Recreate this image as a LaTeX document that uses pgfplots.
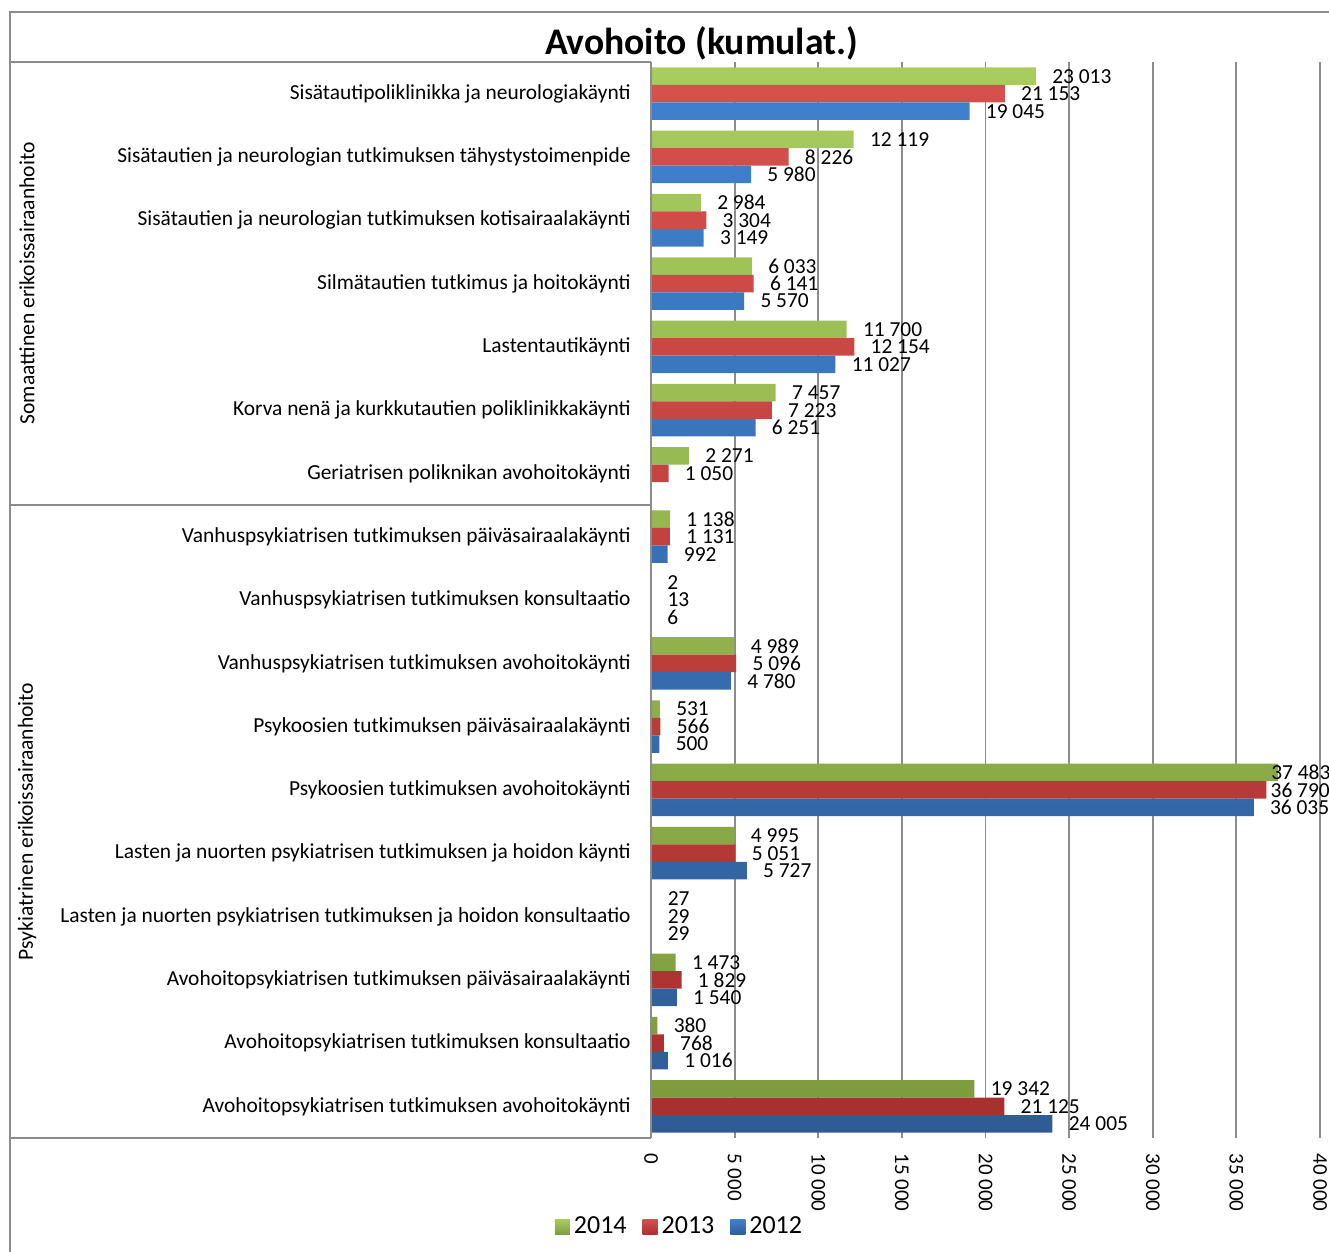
\documentclass[border=0pt]{standalone}
\usepackage{fontspec}
\setmainfont{Carlito}
\usepackage{pgfplots}
\pgfplotsset{compat=1.18}
\definecolor{gridgray}{HTML}{8C8C8C}
\definecolor{framegray}{HTML}{8C8C8C}
\definecolor{gtop}{HTML}{A8CC5E}
\definecolor{gbot}{HTML}{7E9C3E}
\definecolor{rtop}{HTML}{D6504C}
\definecolor{rbot}{HTML}{A8302E}
\definecolor{btop}{HTML}{3F80CE}
\definecolor{bbot}{HTML}{2F5C96}
\newcommand{\lblfont}{\fontsize{10.7}{12.5}\selectfont}
\newcommand{\tickfont}{\fontsize{10.5}{12.5}\selectfont}
\begin{document}
\begin{tikzpicture}
\path (0pt,0pt) rectangle (664.5pt,-626pt);
\begin{axis}[
  at={(325.5pt,-31pt)}, anchor=north west,
  scale only axis, width=334.5pt, height=538pt,
  xbar, bar width=8.75pt,
  xmin=0, xmax=40000, ymin=-0.5, ymax=16.5, y dir=reverse,
  clip=false,
  xtick={0,5000,...,40000},
  ytick={0,...,16},
  yticklabels={
    Sisätautipoliklinikka ja neurologiakäynti,
    Sisätautien ja neurologian tutkimuksen tähystystoimenpide,
    Sisätautien ja neurologian tutkimuksen kotisairaalakäynti,
    Silmätautien tutkimus ja hoitokäynti,
    Lastentautikäynti,
    Korva nenä ja kurkkutautien poliklinikkakäynti,
    Geriatrisen poliknikan avohoitokäynti,
    Vanhuspsykiatrisen tutkimuksen päiväsairaalakäynti,
    Vanhuspsykiatrisen tutkimuksen konsultaatio,
    Vanhuspsykiatrisen tutkimuksen avohoitokäynti,
    Psykoosien tutkimuksen päiväsairaalakäynti,
    Psykoosien tutkimuksen avohoitokäynti,
    Lasten ja nuorten psykiatrisen tutkimuksen ja hoidon käynti,
    Lasten ja nuorten psykiatrisen tutkimuksen ja hoidon konsultaatio,
    Avohoitopsykiatrisen tutkimuksen päiväsairaalakäynti,
    Avohoitopsykiatrisen tutkimuksen konsultaatio,
    Avohoitopsykiatrisen tutkimuksen avohoitokäynti},
  xmajorgrids, grid style={draw=gridgray, line width=0.9pt},
  axis line style={draw=none},
  major tick length=0pt,
  scaled x ticks=false,
  /pgf/number format/fixed,
  /pgf/number format/precision=0,
  /pgf/number format/1000 sep={\ },
  /pgf/number format/assume math mode=true,
  xticklabel style={yshift=-7.5pt, rotate=-90, anchor=west, inner sep=0pt, font=\tickfont},
  yticklabel style={anchor=east, inner sep=0pt, xshift=-10pt, font=\lblfont},
  nodes near coords, point meta=x,
  nodes near coords style={font=\lblfont, anchor=west, inner sep=0pt, xshift=8pt, text=black},
  coordinate style/.condition={x>37000}{xshift=-11.5pt},
  coordinate style/.condition={x>36500 && x<37000}{xshift=-6pt},
  legend style={at={(0.0441,-0.0827)}, anchor=center, draw=none, fill=none,
    font=\fontsize{13}{15}\selectfont, legend columns=3,
    /tikz/every even column/.append style={column sep=6pt}},
  legend image code/.code={\path[#1, draw=none] (-1.5pt,-3.75pt) rectangle (6pt,3.75pt);},
]
\addplot[draw=none, top color=gtop, bottom color=gbot, bar shift=8.75pt] coordinates {
 (23013,0) (12119,1) (2984,2) (6033,3) (11700,4) (7457,5) (2271,6) (1138,7) (2,8)
 (4989,9) (531,10) (37483,11) (4995,12) (27,13) (1473,14) (380,15) (19342,16)};
\addplot[draw=none, top color=rtop, bottom color=rbot, bar shift=0pt] coordinates {
 (21153,0) (8226,1) (3304,2) (6141,3) (12154,4) (7223,5) (1050,6) (1131,7) (13,8)
 (5096,9) (566,10) (36790,11) (5051,12) (29,13) (1829,14) (768,15) (21125,16)};
\addplot[draw=none, top color=btop, bottom color=bbot, bar shift=-8.75pt] coordinates {
 (19045,0) (5980,1) (3149,2) (5570,3) (11027,4) (6251,5) (992,7) (6,8)
 (4780,9) (500,10) (36035,11) (5727,12) (29,13) (1540,14) (1016,15) (24005,16)};
\legend{2014,2013,2012}
\end{axis}
\draw[framegray, line width=0.9pt] (5pt,-626pt) -- (5pt,-6pt) -- (664.5pt,-6pt);
\draw[framegray, line width=0.9pt] (5pt,-31pt) -- (325.5pt,-31pt);
\draw[framegray, line width=0.9pt] (5pt,-252.5pt) -- (325.5pt,-252.5pt);
\draw[framegray, line width=0.9pt] (5pt,-569pt) -- (325.5pt,-569pt);
\draw[framegray, line width=0.9pt] (325.5pt,-31pt) -- (325.5pt,-569pt);
\node[rotate=90, font=\fontsize{10.8}{12.5}\selectfont] at (13.5pt,-141.75pt) {Somaattinen erikoissairaanhoito};
\node[rotate=90, font=\fontsize{10.8}{12.5}\selectfont] at (13.5pt,-410.75pt) {Psykiatrinen erikoissairaanhoito};
\node[font=\bfseries\fontsize{18.8}{22}\selectfont] at (350.75pt,-21.5pt) {Avohoito (kumulat.)};
\pgfresetboundingbox
\path (0pt,0pt) rectangle (664.5pt,-626pt);
\end{tikzpicture}
\end{document}
